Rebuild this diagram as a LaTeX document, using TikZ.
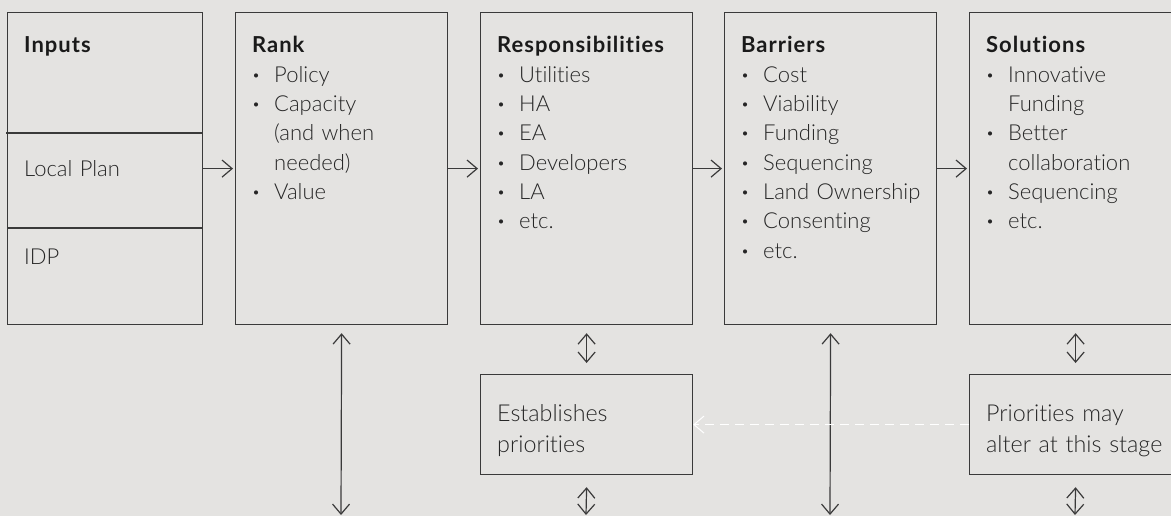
\documentclass[tikz,border=0pt]{standalone}
\usepackage{fontspec}
\setmainfont{Lato}[UprightFont=* Light, BoldFont=* Bold, Ligatures={NoCommon}]
\usetikzlibrary{arrows.meta}
\definecolor{bg}{HTML}{E4E3E1}
\definecolor{ln}{HTML}{3A3A3A}
\definecolor{tx}{HTML}{262626}
\definecolor{tt}{HTML}{1A1A1A}
\newcommand\bitem[1]{\makebox[22pt][l]{\hspace{1pt}\textbf{·}}#1}
\newcommand\bcont[1]{\hspace*{22pt}#1}
\newcommand\ttl[1]{{\color{tt}\bfseries\addfontfeature{LetterSpace=4.5}#1}}
\begin{document}
\begin{tikzpicture}[x=1pt,y=-1pt,
  box/.style={draw=ln, line width=1.2pt, rectangle, inner sep=0pt, anchor=north west},
  bigbox/.style={box, minimum width=212pt, minimum height=312pt},
  smallbox/.style={box, minimum width=212pt, minimum height=100pt},
  lbl/.style={anchor=base west, inner sep=0pt, text=tx, text width=230pt, align=left,
    font=\fontsize{22}{29.3}\selectfont},
  blbl/.style={lbl, font=\fontsize{23.3}{31}\selectfont},
  arr/.style={draw=ln, line width=1.2pt, -{Straight Barb[length=10pt, width=17pt]}, shorten >=2pt},
  dbl/.style={draw=ln, line width=1.2pt, {Straight Barb[length=10pt, width=17pt]}-{Straight Barb[length=10pt, width=17pt]}},
  wdash/.style={draw=white, line width=1pt, dash pattern=on 9pt off 6pt, -{Straight Barb[length=10pt, width=17pt]}}
]
\fill[bg] (0,0) rectangle (1171,516);
\useasboundingbox (0,0) rectangle (1171,516);

% main boxes
\node[box, minimum width=195pt, minimum height=312pt] (inp) at (7,12) {};
\node[bigbox] (rank) at (235,12) {};
\node[bigbox] (resp) at (480,12) {};
\node[bigbox] (barr) at (724,12) {};
\node[bigbox] (sol) at (969,12) {};
\node[smallbox] (est) at (480,374) {};
\node[smallbox] (prio) at (969,374) {};

% dividers in Inputs
\coordinate (d1) at (6,133);
\coordinate (d2) at (7,228);
\draw[ln, line width=1.2pt] (d1) -- (d1 -| inp.east);
\draw[ln, line width=1.2pt] (d2) -- (d2 -| inp.east);

% texts
\node[lbl] (tinp) at (24,53) {\ttl{Inputs}};
\node[lbl] (tlp) at (24,177) {Local Plan};
\node[lbl] (tidp) at (24,265) {IDP};
\node[lbl] (trank) at (252,53) {\ttl{Rank}\\
  \bitem{Policy}\\
  \bitem{Capacity}\\
  \bcont{(and when}\\
  \bcont{needed)}\\
  \bitem{Value}};
\node[lbl] (tresp) at (497,53) {\ttl{Responsibilities}\\
  \bitem{Utilities}\\
  \bitem{HA}\\
  \bitem{EA}\\
  \bitem{Developers}\\
  \bitem{LA}\\
  \bitem{etc.}};
\node[lbl] (tbarr) at (741,53) {\ttl{Barriers}\\
  \bitem{Cost}\\
  \bitem{Viability}\\
  \bitem{Funding}\\
  \bitem{Sequencing}\\
  \bitem{Land Ownership}\\
  \bitem{Consenting}\\
  \bitem{etc.}};
\node[lbl] (tsol) at (986,53) {\ttl{Solutions}\\
  \bitem{Innovative}\\
  \bcont{Funding}\\
  \bitem{Better}\\
  \bcont{collaboration}\\
  \bitem{Sequencing}\\
  \bitem{etc.}};
\node[blbl] (test) at (497,421) {Establishes\\priorities};
\node[blbl] (tprio) at (986,421) {Priorities may\\alter at this stage};

% horizontal flow
\draw[arr] (inp.east) -- (rank.west);
\draw[arr] (rank.east) -- (resp.west);
\draw[arr] (resp.east) -- (barr.west);
\draw[arr] (barr.east) -- (sol.west);

% vertical connectors
\coordinate (rb) at (341,515);
\coordinate (bb) at (830,515);
\coordinate (eb) at (586,515);
\coordinate (pb) at (1075,515);
\draw[dbl] ([yshift=-8pt]rank.south) -- (rb);
\draw[dbl] ([yshift=-8pt]barr.south) -- (bb);
\draw[dbl] ([yshift=-8pt]resp.south) -- ([yshift=11pt]est.north);
\draw[dbl] ([yshift=-12pt]est.south) -- (eb);
\draw[dbl] ([yshift=-8pt]sol.south) -- ([yshift=11pt]prio.north);
\draw[dbl] ([yshift=-12pt]prio.south) -- (pb);

% dashed feedback
\draw[wdash] (prio.west) -- (est.east);
\end{tikzpicture}
\end{document}
